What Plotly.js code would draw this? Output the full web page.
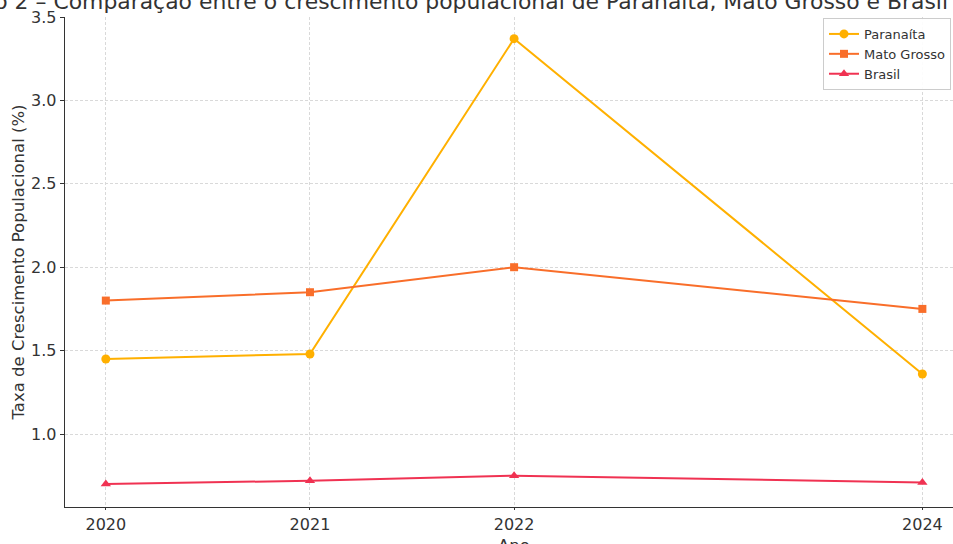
<!DOCTYPE html>
<html>
<head>
<meta charset="utf-8">
<script src="https://cdn.plot.ly/plotly-3.0.1.min.js"></script>
<style>
html,body{margin:0;padding:0;background:#fff;overflow:hidden;}
#chart{width:953px;height:544px;}
</style>
</head>
<body>
<div id="chart"></div>
<script>
const years = [2020, 2021, 2022, 2024];
const paranaita = [1.45, 1.48, 3.37, 1.36];
const matoGrosso = [1.80, 1.85, 2.00, 1.75];
const brasil = [0.70, 0.72, 0.75, 0.71];
const yTicks = [1.0, 1.5, 2.0, 2.5, 3.0, 3.5];
const yTickLabels = ['1.0', '1.5', '2.0', '2.5', '3.0', '3.5'];
const titleText = 'Gráfico 2 – Comparação entre o crescimento populacional de Paranaíta, Mato Grosso e Brasil';
const yTitle = 'Taxa de Crescimento Populacional (%)';
const xTitle = 'Ano';

const font = 'DejaVu Sans, sans-serif';
const traces = [
  {x: years, y: paranaita, name: 'Paranaíta', mode: 'lines+markers',
   line: {color: '#FFB000', width: 2}, marker: {symbol: 'circle', size: 9, color: '#FFB000'}},
  {x: years, y: matoGrosso, name: 'Mato Grosso', mode: 'lines+markers',
   line: {color: '#F96E2A', width: 2}, marker: {symbol: 'square', size: 8, color: '#F96E2A'}},
  {x: years, y: brasil, name: 'Brasil', mode: 'lines+markers',
   line: {color: '#F03252', width: 2}, marker: {symbol: 'triangle-up', size: 9, color: '#F03252'}}
];
const layout = {
  width: 953, height: 544,
  margin: {l: 65, r: 0, t: 17, b: 37},
  paper_bgcolor: '#fff', plot_bgcolor: '#fff',
  font: {family: font, color: '#333', size: 16},
  title: {text: titleText, font: {size: 21.9, color: '#333', family: font},
          xref: 'paper', x: 0.9944, xanchor: 'right',
          yref: 'container', y: 0.9972, yanchor: 'middle'},
  xaxis: {range: [2019.8, 2024.15], tickvals: years, ticktext: years.map(String),
          showgrid: true, gridcolor: '#d9d9d9', griddash: '3px,2px', gridwidth: 1,
          showline: true, linecolor: '#333', linewidth: 1.3,
          ticks: 'outside', ticklen: 2, tickcolor: '#333', zeroline: false,
          automargin: false},
  yaxis: {range: [0.5625, 3.5], tickvals: yTicks, ticktext: yTickLabels,
          showgrid: true, gridcolor: '#d9d9d9', griddash: '3px,2px', gridwidth: 1,
          showline: true, linecolor: '#333', linewidth: 1.3,
          ticks: 'outside', ticklen: 4, tickcolor: '#333', zeroline: false,
          title: {text: yTitle, standoff: 2, font: {size: 16.5, color: '#333'}},
          automargin: false},
  annotations: [
    {text: xTitle, xref: 'paper', yref: 'paper', x: 0.5056, y: -0.055,
     xanchor: 'center', yanchor: 'top', showarrow: false,
     font: {size: 16.5, color: '#333', family: font}}
  ],
  legend: {x: 0.8536, xanchor: 'left', y: 0.998, yanchor: 'top',
           bgcolor: 'rgba(255,255,255,0.9)', bordercolor: '#ccc', borderwidth: 1,
           font: {size: 13, color: '#333', family: font}, tracegroupgap: 0},
  showlegend: true
};
Plotly.newPlot('chart', traces, layout, {displayModeBar: false, staticPlot: true});
</script>
</body>
</html>
